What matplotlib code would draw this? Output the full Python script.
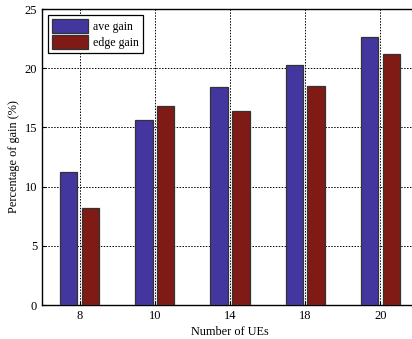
import numpy as np
import matplotlib
matplotlib.use("Agg")
import matplotlib.pyplot as plt

plt.rcParams["font.family"] = ["Liberation Serif", "DejaVu Serif"]

ues = ["8", "10", "14", "18", "20"]
ave_gain = [11.2, 15.6, 18.45, 20.3, 22.6]
edge_gain = [8.2, 16.8, 16.4, 18.5, 21.2]

fig = plt.figure(figsize=(4.12, 3.39), dpi=100)
# right edge of the axes runs off the picture, as in the reference
ax = fig.add_axes([42 / 412, 34 / 339, 376 / 412, 296 / 339])

x = np.arange(1, len(ues) + 1)
w = 0.23
ax.bar(x - 0.145, ave_gain, w, color="#43369e", edgecolor="#333333",
       linewidth=0.9, label="ave gain", zorder=3)
ax.bar(x + 0.145, edge_gain, w, color="#7f1a15", edgecolor="#333333",
       linewidth=0.9, label="edge gain", zorder=3)

ax.set_xlim(0.5, 5.5)
ax.set_ylim(0, 25)
ax.set_xticks(x)
ax.set_xticklabels(ues)
ax.set_yticks(range(0, 26, 5))
ax.tick_params(direction="in", labelsize=9, length=3)
ax.grid(True, color="black", linestyle=(0, (1.5, 1.5)), linewidth=0.7, zorder=0)
ax.set_axisbelow(True)
for s in ax.spines.values():
    s.set_linewidth(1.0)
ax.spines["right"].set_visible(False)

ax.set_xlabel("Number of UEs", fontsize=8.8, labelpad=3)
ax.set_ylabel("Percentage of gain (%)", fontsize=8.8, labelpad=3)

leg = ax.legend(loc="upper left", fontsize=8.6, fancybox=False, framealpha=1,
                edgecolor="black", handlelength=3.0, handleheight=1.4,
                borderaxespad=0.5, handletextpad=0.4, labelspacing=0.2,
                borderpad=0.35)
leg.get_frame().set_linewidth(0.9)

fig.savefig("out.png", dpi=100)
